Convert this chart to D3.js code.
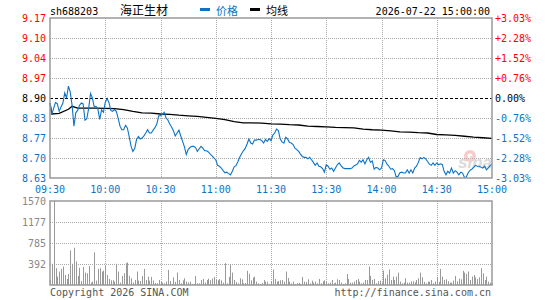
<!DOCTYPE html>
<html>
<head>
<meta charset="utf-8">
<script src="https://cdn.jsdelivr.net/npm/d3@7"></script>
<style>
  body { margin: 0; background: #fff; }
  text { font-family: "DejaVu Sans Mono", monospace; font-size: 10px; }
</style>
</head>
<body>
<div class="chart"></div>
<script>
var code = "sh688203", stockName = "海正生材", stamp = "2026-07-22 15:00:00";
var prevClose = 8.90, maxPct = 0.0303;

var priceLabels = ["9.17", "9.10", "9.04", "8.97", "8.90", "8.83", "8.77", "8.70", "8.63"];
var pctLabels = ["+3.03%", "+2.28%", "+1.52%", "+0.76%", "0.00%", "-0.76%", "-1.52%", "-2.28%", "-3.03%"];
var timeLabels = ["09:30", "10:00", "10:30", "11:00", "11:30", "13:30", "14:00", "14:30", "15:00"];
var volTicks = [392, 785, 1177, 1570];
var volMax = 1570;

// one price per minute, 09:30 .. 11:30 and 13:01 .. 15:00
var price = [
  8.883, 8.845, 8.866, 8.885, 8.880, 8.855, 8.870, 8.883, 8.917, 8.900,
  8.940, 8.920, 8.875, 8.805, 8.850, 8.858, 8.875, 8.883, 8.880, 8.825,
  8.830, 8.866, 8.915, 8.900, 8.870, 8.872, 8.862, 8.828, 8.860, 8.852,
  8.885, 8.898, 8.885, 8.858, 8.855, 8.861, 8.855, 8.832, 8.805, 8.793,
  8.793, 8.808, 8.799, 8.770, 8.738, 8.720, 8.730, 8.760, 8.770, 8.762,
  8.765, 8.772, 8.782, 8.793, 8.782, 8.782, 8.792, 8.800, 8.812, 8.840,
  8.840, 8.845, 8.852, 8.833, 8.826, 8.812, 8.802, 8.790, 8.772, 8.782,
  8.792, 8.772, 8.754, 8.735, 8.709, 8.726, 8.733, 8.737, 8.737, 8.733,
  8.720, 8.729, 8.737, 8.731, 8.722, 8.722, 8.718, 8.711, 8.705, 8.698,
  8.692, 8.673, 8.670, 8.664, 8.655, 8.648, 8.650, 8.645, 8.641, 8.653,
  8.668, 8.672, 8.685, 8.700, 8.712, 8.722, 8.730, 8.745, 8.762, 8.748,
  8.745, 8.758, 8.758, 8.760, 8.760, 8.756, 8.748, 8.760, 8.754, 8.763,
  8.756, 8.775, 8.782, 8.795, 8.790, 8.762, 8.752, 8.748, 8.768, 8.762,
  8.750, 8.748, 8.743, 8.731, 8.726, 8.720, 8.711, 8.703, 8.700, 8.700,
  8.695, 8.700, 8.692, 8.683, 8.673, 8.681, 8.670, 8.668, 8.662, 8.650,
  8.675, 8.670, 8.660, 8.664, 8.653, 8.664, 8.675, 8.681, 8.672, 8.665,
  8.662, 8.662, 8.662, 8.662, 8.664, 8.671, 8.674, 8.678, 8.690, 8.684,
  8.692, 8.678, 8.692, 8.700, 8.683, 8.688, 8.660, 8.666, 8.664, 8.658,
  8.664, 8.692, 8.689, 8.677, 8.670, 8.660, 8.662, 8.655, 8.633, 8.636,
  8.648, 8.650, 8.647, 8.647, 8.658, 8.647, 8.658, 8.647, 8.664, 8.670,
  8.683, 8.699, 8.695, 8.700, 8.695, 8.686, 8.677, 8.673, 8.681, 8.673,
  8.681, 8.675, 8.678, 8.676, 8.653, 8.641, 8.653, 8.647, 8.664, 8.647,
  8.655, 8.650, 8.641, 8.650, 8.647, 8.633, 8.633, 8.647, 8.656, 8.660,
  8.666, 8.673, 8.670, 8.670, 8.667, 8.664, 8.670, 8.658, 8.664, 8.673,
  8.676
];

// average price line, read at these minutes
var avgMinute = [0, 1, 5, 10, 12, 15, 20, 25, 30, 35, 40, 45, 50, 55, 60, 65, 70, 75, 80, 85, 90,
  95, 100, 105, 110, 115, 120, 125, 130, 135, 140, 145, 150, 155, 160, 165, 170, 175, 180, 185,
  190, 195, 200, 205, 210, 215, 220, 225, 230, 235, 240];
var avgPrice = [8.883, 8.846, 8.848, 8.862, 8.872, 8.866, 8.866, 8.866, 8.865, 8.864, 8.861, 8.855,
  8.850, 8.849, 8.846, 8.845, 8.842, 8.840, 8.838, 8.835, 8.831, 8.827, 8.820, 8.816, 8.816, 8.815,
  8.813, 8.812, 8.810, 8.809, 8.805, 8.804, 8.803, 8.801, 8.800, 8.799, 8.795, 8.793, 8.792, 8.789,
  8.786, 8.785, 8.783, 8.782, 8.777, 8.776, 8.774, 8.771, 8.768, 8.766, 8.764];

// volume per minute (hands)
var volume = [
  94, 396, 1570, 314, 157, 251, 301, 345, 188, 113,
  207, 647, 396, 697, 440, 170, 320, 75, 339, 232,
  220, 358, 44, 63, 609, 82, 301, 314, 251, 270,
  358, 188, 113, 88, 88, 63, 396, 251, 44, 170,
  220, 408, 421, 170, 126, 44, 94, 251, 82, 75,
  170, 301, 94, 157, 82, 151, 82, 38, 31, 94,
  63, 44, 31, 63, 283, 75, 19, 144, 57, 232,
  94, 31, 88, 126, 63, 50, 63, 19, 19, 170,
  31, 31, 94, 113, 44, 94, 119, 88, 119, 151,
  94, 88, 113, 88, 44, 408, 31, 151, 389, 232,
  94, 57, 31, 126, 107, 31, 38, 264, 207, 88,
  138, 157, 63, 31, 19, 38, 94, 63, 63, 19,
  75, 289, 113, 63, 75, 88, 94, 63, 251, 132,
  63, 31, 63, 19, 31, 38, 19, 151, 63, 57,
  107, 31, 82, 44, 63, 31, 113, 31, 69, 88,
  63, 31, 44, 94, 31, 44, 107, 94, 44, 19,
  31, 207, 113, 44, 44, 63, 94, 113, 63, 31,
  44, 94, 94, 345, 170, 94, 113, 31, 69, 82,
  44, 270, 126, 195, 289, 94, 157, 94, 157, 232,
  63, 31, 44, 126, 44, 44, 69, 69, 50, 94,
  126, 232, 144, 57, 31, 63, 63, 94, 31, 63,
  144, 57, 301, 157, 94, 107, 69, 44, 44, 82,
  170, 69, 119, 107, 264, 232, 207, 251, 94, 157,
  188, 144, 113, 144, 314, 220, 94, 157, 63, 44,
  31
];

var width = 545, height = 300;
var plot = {left: 50, right: 492, top: 18, bottom: 178};
var vol = {top: 201, bottom: 285};
var blue = "#0b74c8", red = "#ff0000", gridColor = "#aaaaaa", frameColor = "#999999";

var svg = d3.select(".chart").append("svg")
    .attr("width", width)
    .attr("height", height);

var x = d3.scaleLinear().domain([0, 240]).range([plot.left, plot.right]);
var y = d3.scaleLinear()
    .domain([prevClose * (1 - maxPct), prevClose * (1 + maxPct)])
    .range([plot.bottom, plot.top]);
var yVol = d3.scaleLinear().domain([0, volMax]).range([vol.bottom, vol.top]);

var levels = priceLabels.map((d, i) => prevClose * (1 + maxPct * (4 - i) / 4));

// price grid
svg.append("g").selectAll("line")
    .data(levels.filter((d, i) => i > 0 && i < 8))
    .join("line")
    .attr("x1", plot.left).attr("x2", plot.right)
    .attr("y1", d => Math.round(y(d)) + 0.5).attr("y2", d => Math.round(y(d)) + 0.5)
    .attr("stroke", (d, i) => i === 3 ? "#000" : gridColor)
    .attr("stroke-dasharray", (d, i) => i === 3 ? "3,2" : "1,1");

var timeTicks = d3.range(0, 241, 30);
svg.append("g").selectAll("line")
    .data(timeTicks.slice(1, 8))
    .join("line")
    .attr("x1", d => Math.round(x(d)) + 0.5).attr("x2", d => Math.round(x(d)) + 0.5)
    .attr("y1", plot.top).attr("y2", plot.bottom)
    .attr("stroke", gridColor)
    .attr("stroke-dasharray", "1,1");

// volume grid
svg.append("g").selectAll("line")
    .data(volTicks.slice(0, 3))
    .join("line")
    .attr("x1", plot.left).attr("x2", plot.right)
    .attr("y1", d => Math.round(yVol(d)) + 0.5).attr("y2", d => Math.round(yVol(d)) + 0.5)
    .attr("stroke", gridColor)
    .attr("stroke-dasharray", "1,1");

svg.append("g").selectAll("line")
    .data(timeTicks.slice(1, 8))
    .join("line")
    .attr("x1", d => Math.round(x(d)) + 0.5).attr("x2", d => Math.round(x(d)) + 0.5)
    .attr("y1", vol.top).attr("y2", vol.bottom)
    .attr("stroke", gridColor)
    .attr("stroke-dasharray", "1,1");

// watermark
var wm = svg.append("g").attr("transform", "translate(458,168)").attr("opacity", 0.55);
wm.append("circle").attr("cx", 12).attr("cy", -12).attr("r", 6).attr("fill", "#f4a0a0");
wm.append("circle").attr("cx", 12).attr("cy", -12).attr("r", 2.5).attr("fill", "#fff");
wm.append("text").attr("x", 0).attr("y", 0)
    .style("font-family", "Liberation Sans, sans-serif")
    .style("font-size", "17px").style("font-style", "italic").style("font-weight", "bold")
    .attr("fill", "#bdbdbd").text("sina");

// volume bars
svg.append("g").selectAll("rect")
    .data(volume)
    .join("rect")
    .attr("x", (d, i) => Math.round(x(i)))
    .attr("width", 1)
    .attr("y", d => yVol(d))
    .attr("height", d => vol.bottom - yVol(d))
    .attr("fill", "#999");

// average and price lines
var avgLine = d3.line()
    .x((d, i) => x(avgMinute[i]))
    .y(d => y(d));
svg.append("path")
    .datum(avgPrice)
    .attr("d", avgLine)
    .attr("fill", "none")
    .attr("stroke", "#000")
    .attr("stroke-width", 1.3);

var priceLine = d3.line()
    .x((d, i) => x(i))
    .y(d => y(d));
svg.append("path")
    .datum(price)
    .attr("d", priceLine)
    .attr("fill", "none")
    .attr("stroke", blue)
    .attr("stroke-width", 1.1);

// frames
svg.append("rect")
    .attr("x", plot.left).attr("y", plot.top)
    .attr("width", plot.right - plot.left).attr("height", plot.bottom - plot.top)
    .attr("fill", "none").attr("stroke", frameColor).attr("stroke-width", 1.5);
svg.append("rect")
    .attr("x", plot.left).attr("y", vol.top)
    .attr("width", plot.right - plot.left).attr("height", vol.bottom - vol.top)
    .attr("fill", "none").attr("stroke", frameColor).attr("stroke-width", 1.5);

function labelColor(i) {
    return i < 4 ? red : (i === 4 ? "#000" : blue);
}

// left price labels
svg.append("g").selectAll("text")
    .data(priceLabels)
    .join("text")
    .attr("x", 46)
    .attr("y", (d, i) => y(levels[i]))
    .attr("dy", "0.35em")
    .attr("text-anchor", "end")
    .attr("fill", (d, i) => labelColor(i))
    .text(d => d);

// right percent labels
svg.append("g").selectAll("text")
    .data(pctLabels)
    .join("text")
    .attr("x", 495)
    .attr("y", (d, i) => y(levels[i]))
    .attr("dy", "0.35em")
    .attr("fill", (d, i) => labelColor(i))
    .text(d => d);

// time labels
svg.append("g").selectAll("text")
    .data(timeLabels)
    .join("text")
    .attr("x", (d, i) => x(timeTicks[i]))
    .attr("y", 189)
    .attr("dy", "0.35em")
    .attr("text-anchor", "middle")
    .attr("fill", blue)
    .text(d => d);

// volume labels
svg.append("g").selectAll("text")
    .data(volTicks)
    .join("text")
    .attr("x", 46)
    .attr("y", d => yVol(d))
    .attr("dy", "0.35em")
    .attr("text-anchor", "end")
    .attr("fill", "#888")
    .text(d => d);

// header
svg.append("text").attr("x", 50).attr("y", 15).attr("fill", "#000").text(code);
svg.append("text").attr("x", 120).attr("y", 15)
    .style("font-family", "Noto Sans CJK SC, sans-serif").style("font-size", "12px")
    .attr("fill", "#000").text(stockName);

svg.append("rect").attr("x", 200).attr("y", 8).attr("width", 10).attr("height", 3).attr("fill", blue);
svg.append("text").attr("x", 216).attr("y", 15)
    .style("font-family", "Noto Sans CJK SC, sans-serif").style("font-size", "11px")
    .attr("fill", blue).text("价格");
svg.append("rect").attr("x", 250).attr("y", 8).attr("width", 10).attr("height", 3).attr("fill", "#000");
svg.append("text").attr("x", 266).attr("y", 15)
    .style("font-family", "Noto Sans CJK SC, sans-serif").style("font-size", "11px")
    .attr("fill", "#000").text("均线");

svg.append("text").attr("x", 490).attr("y", 15).attr("text-anchor", "end")
    .attr("fill", "#000").text(stamp);

// footer
svg.append("text").attr("x", 50).attr("y", 296).attr("fill", "#555").text("Copyright 2026 SINA.COM");
svg.append("text").attr("x", 491).attr("y", 296).attr("text-anchor", "end")
    .attr("fill", "#555").text("http://finance.sina.com.cn");
</script>
</body>
</html>
